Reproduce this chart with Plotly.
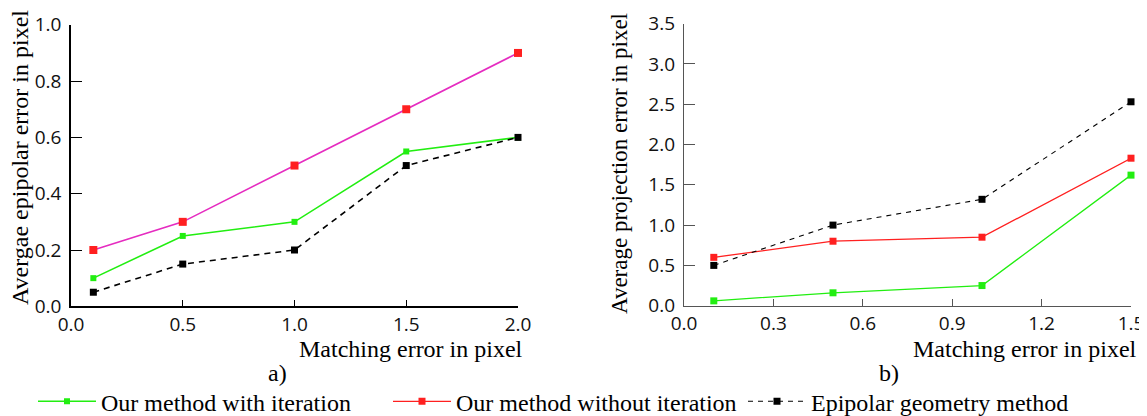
import plotly.graph_objects as go

# The page body has an 8px default margin; the figure is sized so it fills the rest
OFF = 8
W, H = 1147 - OFF, 416 - OFF

# ---------------- data ----------------
x_a = [0.1, 0.5, 1.0, 1.5, 2.0]
a_with_iter = [0.10, 0.25, 0.30, 0.55, 0.60]
a_without_iter = [0.20, 0.30, 0.50, 0.70, 0.90]
a_epipolar = [0.05, 0.15, 0.20, 0.50, 0.60]

x_b = [0.1, 0.5, 1.0, 1.5]
b_with_iter = [0.06, 0.16, 0.25, 1.62]
b_without_iter = [0.60, 0.80, 0.85, 1.83]
b_epipolar = [0.50, 1.00, 1.32, 2.53]

names = ["Our method with iteration", "Our method without iteration", "Epipolar geometry method"]
a_ticks_x = [0.0, 0.5, 1.0, 1.5, 2.0]
a_ticks_y = [0.0, 0.2, 0.4, 0.6, 0.8, 1.0]
b_ticks_x = [0.0, 0.3, 0.6, 0.9, 1.2, 1.5]
b_ticks_y = [0.0, 0.5, 1.0, 1.5, 2.0, 2.5, 3.0, 3.5]

GREEN = "#22ee11"
RED = "#ff2020"
MAGENTA = "#e52cc0"
BLACK = "#000000"

def px(x):
    return (x - OFF) / W

def py(y):
    return 1 - (y - OFF) / H

fig = go.Figure()

# panel a
fig.add_trace(go.Scatter(x=x_a, y=a_with_iter, mode="lines+markers", name=names[0],
                         line=dict(color=GREEN, width=1.6),
                         marker=dict(symbol="square", size=6, color=GREEN),
                         xaxis="x", yaxis="y", cliponaxis=False, showlegend=True))
fig.add_trace(go.Scatter(x=x_a, y=a_without_iter, mode="lines+markers", name=names[1],
                         line=dict(color=MAGENTA, width=1.6),
                         marker=dict(symbol="square", size=8, color=RED),
                         xaxis="x", yaxis="y", cliponaxis=False, showlegend=False))
fig.add_trace(go.Scatter(x=x_a, y=a_epipolar, mode="lines+markers", name=names[2],
                         line=dict(color=BLACK, width=1.6, dash="6px,5px"),
                         marker=dict(symbol="square", size=7, color=BLACK),
                         xaxis="x", yaxis="y", cliponaxis=False, showlegend=False))

# panel b
fig.add_trace(go.Scatter(x=x_b, y=b_with_iter, mode="lines+markers", name=names[0],
                         line=dict(color=GREEN, width=1.3),
                         marker=dict(symbol="square", size=7, color=GREEN),
                         xaxis="x2", yaxis="y2", cliponaxis=False, showlegend=False))
fig.add_trace(go.Scatter(x=x_b, y=b_without_iter, mode="lines+markers", name=names[1],
                         line=dict(color=RED, width=1.3),
                         marker=dict(symbol="square", size=7, color=RED),
                         xaxis="x2", yaxis="y2", cliponaxis=False, showlegend=True))
fig.add_trace(go.Scatter(x=x_b, y=b_epipolar, mode="lines+markers", name=names[2],
                         line=dict(color=BLACK, width=1.1, dash="5px,5px"),
                         marker=dict(symbol="square", size=7, color=BLACK),
                         xaxis="x2", yaxis="y2", cliponaxis=False, showlegend=True))

tickfont = dict(family="Open Sans", size=19, color="#111")
serif = "Liberation Serif, Times New Roman, serif"

common_x = dict(showgrid=False, zeroline=False, showline=True, ticks="inside", automargin=False,
                ticklen=7, tickwidth=1.2, tickfont=tickfont, ticklabelstandoff=0)
common_y = dict(showgrid=False, zeroline=False, showline=True, ticks="inside", automargin=False,
                ticklen=11, tickwidth=1.2, tickfont=tickfont, ticklabelstandoff=4)

fig.update_layout(
    width=W, height=H,
    margin=dict(l=0, r=0, t=0, b=0, autoexpand=False),
    paper_bgcolor="white", plot_bgcolor="white",
    showlegend=True,
    xaxis=dict(**common_x, domain=[px(71), px(518)], range=[0, 2], tickvals=a_ticks_x,
               tickformat=".1f", anchor="y", linecolor="black", linewidth=1.5, tickcolor="black"),
    yaxis=dict(**common_y, domain=[py(306.3), py(24.8)], range=[0, 1], tickvals=a_ticks_y,
               tickformat=".1f", anchor="x", linecolor="black", linewidth=1.5, tickcolor="black"),
    xaxis2=dict(**common_x, domain=[px(684), px(1131)], range=[0, 1.5], tickvals=b_ticks_x,
                tickformat=".1f", anchor="y2", linecolor="#555", linewidth=1.3, tickcolor="#555"),
    yaxis2=dict(**common_y, domain=[py(305.7), py(23.6)], range=[0, 3.5], tickvals=b_ticks_y,
                tickformat=".1f", anchor="x2", linecolor="#555", linewidth=1.3, tickcolor="#555"),
    legend=dict(orientation="h", x=px(33), y=py(401.7), xanchor="left", yanchor="middle",
                font=dict(family=serif, size=24, color="black"),
                entrywidth=282, entrywidthmode="pixels", itemwidth=58,
                bgcolor="rgba(0,0,0,0)", traceorder="normal"),
)

title_font = dict(family=serif, size=24, color="black")
ann = [
    dict(text="Matching error in pixel", x=px(525), y=py(349), xanchor="right", yanchor="middle"),
    dict(text="Matching error in pixel", x=px(1139), y=py(349), xanchor="right", yanchor="middle"),
    dict(text="Avergae epipolar error in pixel", x=px(20), y=py(158), xanchor="center", yanchor="middle", textangle=-90),
    dict(text="Average projection error in pixel", x=px(619), y=py(163), xanchor="center", yanchor="middle",
         textangle=-90, font=dict(family=serif, size=23, color="black")),
    dict(text="a)", x=px(277), y=py(373), xanchor="center", yanchor="middle"),
    dict(text="b)", x=px(889), y=py(373), xanchor="center", yanchor="middle"),
]
for a in ann:
    a.setdefault("font", title_font)
    fig.add_annotation(xref="paper", yref="paper", showarrow=False, **a)

fig.write_html("out.html")
